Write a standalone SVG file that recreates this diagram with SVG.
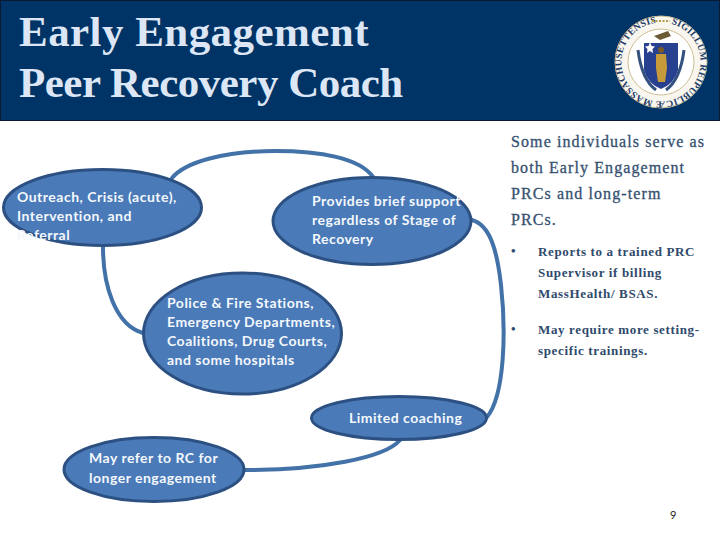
<svg xmlns="http://www.w3.org/2000/svg" width="720" height="540" viewBox="0 0 720 540">
<defs><path id="ring" d="M671.200 23.800A39.500 39.500 0 0 1 650.800 100.200A39.500 39.500 0 0 1 671.200 23.800"/></defs>
<style>
.n{fill:#4a7ab8;stroke:#2c5082;stroke-width:3}
.c{fill:none;stroke:#4272a8;stroke-width:4;stroke-linecap:round}
.t{font-family:"Lato","Open Sans",sans-serif;font-weight:700;font-size:14px;letter-spacing:.5px;fill:#f4f8fc}
.h{font-family:"Liberation Serif",serif;font-weight:700;font-size:43px;fill:#dce6f5}
.b{font-family:"Liberation Serif",serif;font-size:16px;fill:#35506f;stroke:#35506f;stroke-width:.3;letter-spacing:1.1px}
.s{font-family:"Liberation Serif",serif;font-weight:700;font-size:13px;fill:#2f4a6b;letter-spacing:.65px}
</style>
<rect width="720" height="540" fill="#fff"/>
<g id="header">
<rect x=".5" y=".5" width="719" height="120" fill="#003366" stroke="#0a1a33"/>
<text class="h" x="19" y="46" letter-spacing=".45">Early Engagement</text>
<text class="h" x="19" y="97" letter-spacing="-.5">Peer Recovery Coach</text>
</g>
<g id="seal">
<circle cx="661" cy="62" r="46" fill="#f8f6ee" stroke="#cdbf94"/>
<text font-family="Liberation Serif,serif" font-weight="700" font-size="9.500" fill="#1f3a66" letter-spacing=".3"><textPath href="#ring">SIGILLUM REIPUBLICÆ MASSACHUSETTENSIS</textPath></text>
<path d="M652 21H670" stroke="#b89b4a" stroke-width="2" stroke-dasharray="2 1.500"/>
<circle cx="661" cy="62" r="33" fill="#fff" stroke="#cdbf94"/>
<path d="M654 36L668 31L671 36L660 40Z" fill="#6b5a34"/>
<path d="M638 50C640 66 645 82 656 90M684 50C682 66 677 82 666 90" fill="none" stroke="#34507f" stroke-width="3"/>
<path d="M644 43H678V70Q674 84 661 89Q648 84 644 70Z" fill="#27408f"/>
<path d="M650 42L651.500 46L655 46.500L652.500 49L653 53L650 51L647 53L647.500 49L645 46.500L648.500 46Z" fill="#fff"/>
<circle cx="661" cy="50" r="3" fill="#7a5a28"/>
<path d="M656 54H666L667 68L665 82H658L656 68Z" fill="#c89b3a"/>
</g>
<g id="connectors">
<path class="c" d="M172 178C185 162 225 151 275 151C320 151 360 158 373 177"/>
<path class="c" d="M103 247C103 285 115 325 143 333"/>
<path class="c" d="M472 220C490 225 497 250 501 285C506 330 505 395 487 417"/>
<path class="c" d="M400 440C385 458 320 470 245 470"/>
</g>
<g id="n1"><ellipse class="n" cx="102.500" cy="207.500" rx="99" ry="38"/>
<text class="t" x="17" y="202">Outreach, Crisis (acute),</text>
<text class="t" x="17" y="221">Intervention, and</text>
<text class="t" x="17" y="240">Referral</text></g>
<g id="n2"><ellipse class="n" cx="372" cy="221" rx="99" ry="43.500"/>
<text class="t" x="312" y="206">Provides brief support</text>
<text class="t" x="312" y="225">regardless of Stage of</text>
<text class="t" x="312" y="244">Recovery</text></g>
<g id="n3"><ellipse class="n" cx="242.500" cy="333.500" rx="99" ry="60.500"/>
<text class="t" x="167" y="308">Police &amp; Fire Stations,</text>
<text class="t" x="167" y="327">Emergency Departments,</text>
<text class="t" x="167" y="346">Coalitions, Drug Courts,</text>
<text class="t" x="167" y="365">and some hospitals</text></g>
<g id="n4"><ellipse class="n" cx="399" cy="418" rx="87.500" ry="21.500"/>
<text class="t" x="349" y="423">Limited coaching</text></g>
<g id="n5"><ellipse class="n" cx="154" cy="469.500" rx="90" ry="32"/>
<text class="t" x="89" y="463">May refer to RC for</text>
<text class="t" x="89" y="483">longer engagement</text></g>
<g id="side">
<text class="b" x="511" y="147">Some individuals serve as</text>
<text class="b" x="511" y="173">both Early Engagement</text>
<text class="b" x="511" y="199">PRCs and long-term</text>
<text class="b" x="511" y="225">PRCs.</text>
<text class="s" x="511" y="255">•</text>
<text class="s" x="538" y="256">Reports to a trained PRC</text>
<text class="s" x="538" y="277">Supervisor if billing</text>
<text class="s" x="538" y="298">MassHealth/ BSAS.</text>
<text class="s" x="511" y="333">•</text>
<text class="s" x="538" y="334">May require more setting-</text>
<text class="s" x="538" y="355">specific trainings.</text>
</g>
<text id="page" x="670" y="519" font-family="Lato,sans-serif" font-size="11" fill="#222">9</text>
</svg>
